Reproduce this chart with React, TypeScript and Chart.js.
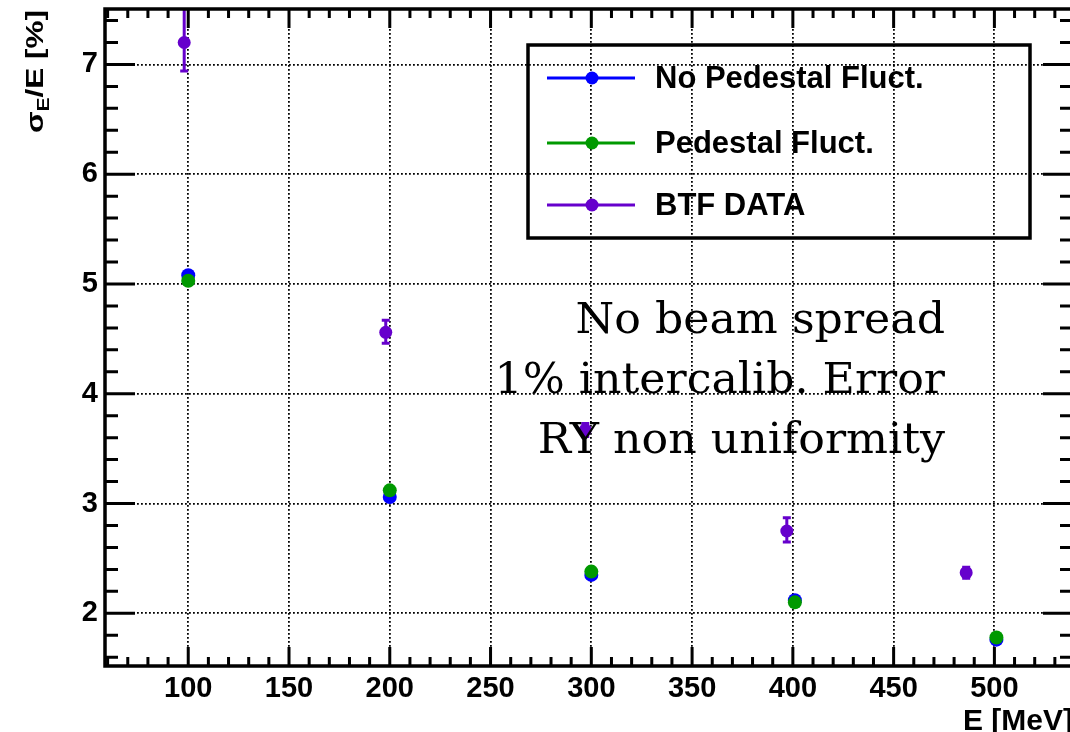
import React, { useEffect, useRef } from "react";
import { Chart, registerables } from "chart.js";

Chart.register(...registerables);

// ---- data ----
const energies = [100, 200, 300, 401, 501];
const noPedestal = [5.08, 3.06, 2.35, 2.12, 1.76];
const pedestal = [5.03, 3.12, 2.38, 2.1, 1.78];
const btfEnergies = [98, 198, 297, 397, 486];
const btfData = [7.2, 4.56, 3.67, 2.75, 2.37];
const btfErrLow = [0.26, 0.1, 0.06, 0.1, 0.05];
const btfErrHigh = [0.35, 0.11, 0.06, 0.12, 0.05];
const seriesLabels = ["No Pedestal Fluct.", "Pedestal Fluct.", "BTF DATA"];
const seriesColors = ["#0000ff", "#009900", "#6600cc"];
const annotationLines = ["No beam spread", "1% intercalib. Error", "RY non uniformity"];
const xLimits = [58.7, 539];
const yLimits = [1.52, 7.505];
const xTitle = "E [MeV]";

const BOLD = "'Liberation Sans', Arial, sans-serif";

const rootDecor = {
  id: "rootDecor",
  beforeDatasetsDraw(chart: any) {
    const { ctx, chartArea, scales } = chart;
    const xs = scales.x;
    const ys = scales.y;
    ctx.save();
    ctx.beginPath();
    ctx.rect(chartArea.left, chartArea.top, chartArea.right - chartArea.left, chartArea.bottom - chartArea.top);
    ctx.clip();
    ctx.strokeStyle = seriesColors[2];
    ctx.lineWidth = 3;
    btfEnergies.forEach((e, i) => {
      const px = xs.getPixelForValue(e);
      const yLo = ys.getPixelForValue(btfData[i] - btfErrLow[i]);
      const yHi = ys.getPixelForValue(btfData[i] + btfErrHigh[i]);
      ctx.beginPath();
      ctx.moveTo(px, yLo);
      ctx.lineTo(px, yHi);
      ctx.moveTo(px - 4, yLo);
      ctx.lineTo(px + 4, yLo);
      ctx.moveTo(px - 4, yHi);
      ctx.lineTo(px + 4, yHi);
      ctx.stroke();
    });
    ctx.restore();
  },
  afterDatasetsDraw(chart: any) {
    const { ctx, chartArea, scales } = chart;
    const { left, right, top, bottom } = chartArea;
    const xs = scales.x;
    const ys = scales.y;
    ctx.save();

    // annotation text
    ctx.fillStyle = "#000";
    ctx.font = "43px 'DejaVu Serif', serif";
    ctx.textAlign = "right";
    ctx.textBaseline = "alphabetic";
    const w0 = ctx.measureText(annotationLines[0]).width;
    const sx = (377 / w0) * 0.98;
    annotationLines.forEach((t, i) => {
      ctx.save();
      ctx.translate(945, 333 + i * 60);
      ctx.scale(sx, 1);
      ctx.fillText(t, 0, 0);
      ctx.restore();
    });

    // frame
    ctx.strokeStyle = "#000";
    ctx.lineWidth = 3.5;
    ctx.strokeRect(left, top, right - left, bottom - top);

    // x ticks
    ctx.lineWidth = 3;
    for (let v = 60; v <= 530; v += 10) {
      const px = xs.getPixelForValue(v);
      if (px < left || px > right) continue;
      const len = v % 50 === 0 ? 19 : 9;
      ctx.beginPath();
      ctx.moveTo(px, bottom);
      ctx.lineTo(px, bottom - len);
      ctx.moveTo(px, top);
      ctx.lineTo(px, top + len);
      ctx.stroke();
    }
    // y ticks
    for (let k = 8; k <= 37; k++) {
      const py = ys.getPixelForValue(k / 5);
      if (py < top || py > bottom) continue;
      const len = k % 5 === 0 ? 30 : 13;
      ctx.beginPath();
      ctx.moveTo(left, py);
      ctx.lineTo(left + len, py);
      ctx.moveTo(right, py);
      ctx.lineTo(right - len, py);
      ctx.stroke();
    }

    // legend
    ctx.lineWidth = 3.5;
    ctx.strokeRect(528, 45, 502, 193);
    const rows = [78, 143, 205];
    chart.data.datasets.forEach((ds: any, i: number) => {
      const y = rows[i];
      ctx.strokeStyle = ds.borderColor;
      ctx.lineWidth = 3;
      ctx.beginPath();
      ctx.moveTo(547, y);
      ctx.lineTo(635, y);
      ctx.stroke();
      ctx.fillStyle = ds.backgroundColor;
      ctx.beginPath();
      ctx.arc(592, y, 6.5, 0, Math.PI * 2);
      ctx.fill();
      ctx.fillStyle = "#000";
      ctx.font = `bold 31px ${BOLD}`;
      ctx.textAlign = "left";
      ctx.textBaseline = "middle";
      ctx.fillText(ds.label, 655, y + 1);
    });

    // x title
    ctx.fillStyle = "#000";
    ctx.font = `bold 30px ${BOLD}`;
    ctx.textAlign = "right";
    ctx.textBaseline = "alphabetic";
    ctx.fillText(xTitle, 1073, 730);

    // y title: sigma_E/E [%]
    const mainFont = `bold 24px ${BOLD}`;
    const subFont = `bold 16px ${BOLD}`;
    ctx.font = mainFont;
    const wSigma = ctx.measureText("σ").width;
    const wRest = ctx.measureText("/E [%]").width;
    ctx.font = subFont;
    const wSub = ctx.measureText("E").width;
    const total = wSigma + wSub + wRest;
    const stretch = 123 / total;
    ctx.translate(43, 133);
    ctx.rotate(-Math.PI / 2);
    ctx.scale(stretch, 1);
    ctx.textAlign = "left";
    ctx.font = mainFont;
    ctx.fillText("σ", 0, 0);
    ctx.font = subFont;
    ctx.fillText("E", wSigma, 6);
    ctx.font = mainFont;
    ctx.fillText("/E [%]", wSigma + wSub, 0);

    ctx.restore();
  },
};

export default function App() {
  const ref = useRef<HTMLCanvasElement | null>(null);
  useEffect(() => {
    if (!ref.current) return;
    const mk = (xsArr: number[], ysArr: number[]) => xsArr.map((x, i) => ({ x, y: ysArr[i] }));
    const gridOpts = { color: "#000", lineWidth: 1.8, drawTicks: false, tickLength: 0 };
    const borderOpts = { display: false, dash: [1.8, 2.2] };
    const tickFont = { family: BOLD, size: 29, weight: "bold" };
    const noPad = (s: any) => {
      s.paddingTop = 0;
      s.paddingBottom = 0;
      s.paddingLeft = 0;
      s.paddingRight = 0;
    };
    const chart = new Chart(ref.current, {
      type: "scatter",
      data: {
        datasets: [
          {
            label: seriesLabels[0],
            data: mk(energies, noPedestal),
            backgroundColor: seriesColors[0],
            borderColor: seriesColors[0],
            pointRadius: 7,
            pointBorderWidth: 0,
            order: 3,
          },
          {
            label: seriesLabels[1],
            data: mk(energies, pedestal),
            backgroundColor: seriesColors[1],
            borderColor: seriesColors[1],
            pointRadius: 7,
            pointBorderWidth: 0,
            order: 2,
          },
          {
            label: seriesLabels[2],
            data: mk(btfEnergies, btfData),
            backgroundColor: seriesColors[2],
            borderColor: seriesColors[2],
            pointRadius: 6.5,
            pointBorderWidth: 0,
            order: 1,
          },
        ],
      },
      options: {
        responsive: false,
        animation: false,
        layout: { autoPadding: false, padding: { left: 0, top: 9, right: 7, bottom: 0 } },
        plugins: { legend: { display: false }, tooltip: { enabled: false } },
        scales: {
          x: {
            type: "linear",
            min: xLimits[0],
            max: xLimits[1],
            afterFit: (s: any) => {
              s.height = 66;
              noPad(s);
            },
            ticks: {
              stepSize: 50,
              includeBounds: false,
              autoSkip: false,
              maxRotation: 0,
              padding: 6,
              color: "#000",
              font: tickFont,
            },
            grid: gridOpts,
            border: borderOpts,
          },
          y: {
            type: "linear",
            min: yLimits[0],
            max: yLimits[1],
            afterFit: (s: any) => {
              s.width = 105;
              noPad(s);
            },
            ticks: {
              stepSize: 1,
              includeBounds: false,
              padding: 7,
              color: "#000",
              font: tickFont,
            },
            grid: gridOpts,
            border: borderOpts,
          },
        },
      },
      plugins: [rootDecor],
    } as any);
    return () => chart.destroy();
  }, []);
  return (
    <div
      style={{
        position: "absolute",
        left: 0,
        top: 0,
        width: 1070,
        height: 732,
        overflow: "hidden",
        background: "#fff",
      }}
    >
      <canvas ref={ref} width={1080} height={732} style={{ width: 1080, height: 732, display: "block" }} />
    </div>
  );
}
